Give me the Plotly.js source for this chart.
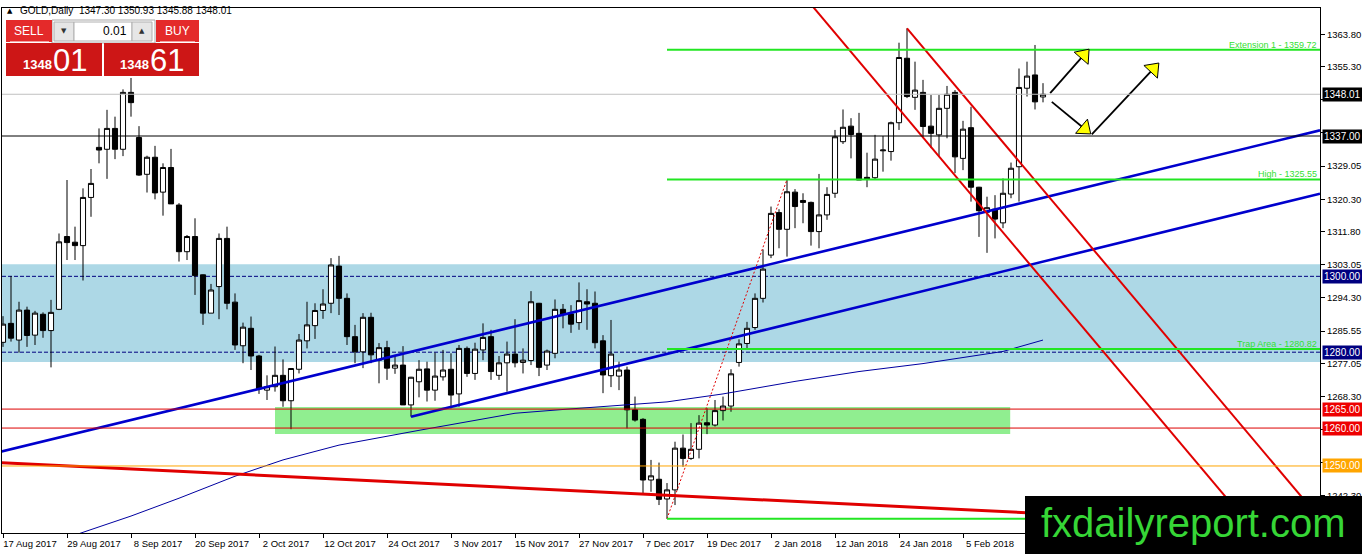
<!DOCTYPE html>
<html><head><meta charset="utf-8">
<script src="https://cdn.plot.ly/plotly-3.0.1.min.js"></script>
<style>html,body{margin:0;padding:0;background:#fff;overflow:hidden}#chart{width:1362px;height:554px}</style>
</head><body><div id="chart"></div>
<script>
// ---------------- DATA ----------------
const dates = [
'2017-08-17','2017-08-18','2017-08-21','2017-08-22','2017-08-23','2017-08-24','2017-08-25','2017-08-28','2017-08-29','2017-08-30','2017-08-31',
'2017-09-01','2017-09-04','2017-09-05','2017-09-06','2017-09-07','2017-09-08','2017-09-11','2017-09-12','2017-09-13','2017-09-14','2017-09-15','2017-09-18','2017-09-19','2017-09-20','2017-09-21','2017-09-22','2017-09-25','2017-09-26','2017-09-27','2017-09-28','2017-09-29',
'2017-10-02','2017-10-03','2017-10-04','2017-10-05','2017-10-06','2017-10-09','2017-10-10','2017-10-11','2017-10-12','2017-10-13','2017-10-16','2017-10-17','2017-10-18','2017-10-19','2017-10-20','2017-10-23','2017-10-24','2017-10-25','2017-10-26','2017-10-27','2017-10-30','2017-10-31',
'2017-11-01','2017-11-02','2017-11-03','2017-11-06','2017-11-07','2017-11-08','2017-11-09','2017-11-10','2017-11-13','2017-11-14','2017-11-15','2017-11-16','2017-11-17','2017-11-20','2017-11-21','2017-11-22','2017-11-23','2017-11-24','2017-11-27','2017-11-28','2017-11-29','2017-11-30',
'2017-12-01','2017-12-04','2017-12-05','2017-12-06','2017-12-07','2017-12-08','2017-12-11','2017-12-12','2017-12-13','2017-12-14','2017-12-15','2017-12-18','2017-12-19','2017-12-20','2017-12-21','2017-12-22','2017-12-26','2017-12-27','2017-12-28','2017-12-29',
'2018-01-02','2018-01-03','2018-01-04','2018-01-05','2018-01-08','2018-01-09','2018-01-10','2018-01-11','2018-01-12','2018-01-15','2018-01-16','2018-01-17','2018-01-18','2018-01-19','2018-01-22','2018-01-23','2018-01-24','2018-01-25','2018-01-26','2018-01-29','2018-01-30','2018-01-31',
'2018-02-01','2018-02-02','2018-02-05','2018-02-06','2018-02-07','2018-02-08','2018-02-09','2018-02-12','2018-02-13','2018-02-14','2018-02-15','2018-02-16','2018-02-19'];

const openP = [
1282.6,1287.6,1283.2,1291.1,1284.5,1290.0,1285.7,1291.3,1310.5,1309.0,1308.1,1320.8,1334.0,1333.5,1339.0,1333.5,1348.5,1336.6,1326.9,1331.4,
1322.2,1328.7,1318.8,1306.5,1310.5,1300.4,1290.3,1297.3,1310.0,1293.2,1281.7,1286.3,1279.0,1270.0,1270.9,1273.9,1267.2,1275.5,1283.0,1287.0,
1291.0,1292.9,1302.7,1294.2,1284.1,1280.1,1289.2,1277.9,1281.2,1275.8,1276.6,1266.1,1272.2,1275.6,1270.0,1273.5,1275.5,1269.0,1281.0,1274.4,
1280.6,1284.1,1273.9,1277.2,1279.5,1277.3,1277.8,1292.9,1276.6,1279.7,1291.3,1290.1,1287.8,1293.3,1292.9,1283.0,1273.8,1273.7,1275.3,1264.8,
1262.3,1246.3,1246.5,1241.3,1243.7,1254.7,1252.0,1254.4,1261.4,1260.8,1264.6,1265.8,1277.3,1282.3,1286.5,1294.2,1305.6,1316.8,1312.4,1322.2,
1320.0,1319.5,1311.8,1316.2,1321.9,1335.5,1339.6,1337.7,1326.1,1326.0,1333.1,1332.9,1340.5,1357.5,1347.2,1348.5,1339.6,1337.3,1344.3,1348.5,
1331.1,1339.2,1323.5,1316.9,1317.7,1314.1,1321.7,1328.9,1349.6,1353.1,1347.30];
const highP = [
1289.5,1300.1,1293.3,1292.0,1290.9,1290.5,1293.8,1311.3,1325.4,1313.1,1323.2,1328.3,1339.0,1343.9,1342.1,1349.3,1352.3,1339.6,1331.8,1334.4,
1329.8,1333.6,1319.3,1310.9,1315.3,1300.5,1298.0,1311.3,1313.1,1295.5,1287.8,1289.4,1279.3,1273.9,1281.5,1278.1,1275.7,1284.8,1293.3,1292.9,
1296.6,1304.8,1305.4,1295.5,1287.2,1290.3,1290.4,1282.4,1283.0,1279.3,1281.6,1273.5,1277.9,1277.5,1279.9,1280.6,1279.7,1281.9,1281.5,1282.5,
1287.6,1285.9,1279.0,1282.8,1288.7,1281.0,1296.1,1293.0,1280.7,1293.9,1292.7,1292.4,1298.4,1296.6,1296.0,1284.5,1288.5,1277.5,1276.2,1268.3,
1262.6,1251.6,1250.9,1245.5,1256.4,1258.3,1261.3,1263.4,1265.2,1267.4,1268.3,1275.5,1283.4,1288.0,1295.5,1307.1,1318.4,1317.7,1325.55,1323.0,
1321.9,1319.7,1327.0,1323.5,1338.6,1344.0,1341.7,1343.1,1332.6,1337.3,1337.0,1340.8,1361.6,1365.4,1356.6,1351.8,1347.8,1347.8,1350.2,1349.1,
1341.0,1344.7,1323.6,1321.0,1321.4,1325.8,1330.0,1354.8,1356.6,1361.0,1350.93];
const lowP = [
1281.4,1282.8,1279.9,1281.4,1281.9,1283.8,1276.0,1291.1,1304.3,1304.3,1298.9,1315.7,1329.8,1325.7,1330.9,1331.7,1342.1,1326.5,1322.1,1320.3,
1316.0,1319.1,1303.9,1304.3,1295.1,1287.2,1290.3,1288.7,1291.3,1280.6,1277.1,1275.3,1269.0,1267.4,1269.6,1265.6,1259.7,1274.4,1281.0,1283.5,
1288.8,1290.3,1289.8,1281.9,1277.1,1275.8,1277.1,1271.8,1272.7,1274.3,1266.1,1263.0,1268.1,1267.0,1267.2,1272.5,1265.2,1265.6,1273.5,1272.7,
1277.9,1272.7,1272.7,1269.6,1276.0,1274.4,1276.6,1273.7,1275.3,1278.4,1286.3,1285.1,1285.9,1285.9,1281.0,1269.2,1270.8,1270.0,1259.9,1261.7,
1242.8,1243.2,1239.7,1236.09,1239.7,1249.8,1251.6,1252.0,1258.4,1260.4,1262.0,1264.3,1276.2,1280.8,1285.9,1293.1,1304.8,1307.4,1305.2,1312.7,
1314.0,1308.1,1307.4,1314.9,1320.7,1334.9,1331.1,1325.4,1323.5,1325.4,1327.6,1330.5,1338.6,1347.0,1343.9,1336.8,1333.8,1331.5,1336.4,1327.2,
1328.0,1319.7,1310.4,1306.2,1310.0,1312.7,1320.6,1319.7,1347.4,1344.0,1345.88];
const closeP = [
1287.4,1283.7,1291.1,1284.4,1290.3,1285.7,1290.5,1309.1,1308.9,1308.1,1320.8,1324.5,1333.3,1339.0,1333.5,1348.5,1345.8,1326.7,1331.4,1322.0,
1328.7,1319.1,1306.5,1310.5,1300.2,1290.3,1296.4,1310.0,1292.9,1281.9,1286.6,1279.0,1270.3,1270.9,1273.9,1267.2,1275.7,1283.2,1287.2,1291.0,
1292.7,1303.0,1294.2,1284.1,1280.1,1289.2,1279.3,1281.2,1275.8,1276.6,1266.1,1273.4,1275.5,1270.0,1273.7,1275.3,1268.7,1281.0,1274.4,1280.8,
1283.9,1274.9,1277.2,1279.5,1277.2,1277.9,1293.3,1276.0,1280.3,1291.3,1290.0,1287.4,1293.6,1292.7,1282.5,1274.0,1279.5,1275.3,1264.8,1262.1,
1246.3,1247.4,1241.2,1243.7,1254.7,1252.0,1254.4,1261.3,1260.8,1264.6,1265.8,1274.3,1282.2,1286.3,1294.2,1301.9,1316.6,1312.4,1322.3,1318.4,
1319.5,1311.8,1316.2,1321.6,1336.8,1339.3,1337.4,1325.4,1325.7,1330.9,1333.3,1340.5,1357.7,1347.4,1349.1,1339.5,1337.7,1344.3,1348.0,1331.5,
1338.8,1323.5,1317.3,1318.1,1315.1,1321.9,1328.5,1349.8,1352.8,1346.0,1348.01];

// moving average (thin navy line), read at sample dates
const maDates = ['2017-08-30','2017-09-08','2017-09-18','2017-09-27','2017-10-05','2017-10-16','2017-10-30','2017-11-15','2017-11-23','2017-12-05','2017-12-12','2017-12-21','2018-01-05','2018-01-17','2018-01-29','2018-02-12','2018-02-19'];
const maValues = [1231.8,1236.8,1241.5,1247.3,1251.6,1255.5,1259.4,1263.9,1264.9,1266.2,1266.9,1269.0,1272.3,1274.9,1277.0,1280.2,1283.2];

// x axis labels
const axisDates = ['2017-08-17','2017-08-29','2017-09-08','2017-09-20','2017-10-02','2017-10-12','2017-10-24','2017-11-03','2017-11-15','2017-11-27','2017-12-07','2017-12-19','2018-01-02','2018-01-12','2018-01-24','2018-02-05'];
const monthNames = ['Jan','Feb','Mar','Apr','May','Jun','Jul','Aug','Sep','Oct','Nov','Dec'];
// price axis ticks (those hidden behind level boxes carry no label)
const priceTicks = [1363.80,1355.30,1346.55,1337.80,1329.05,1320.30,1311.80,1303.05,1294.30,1285.55,1277.05,1268.30,1259.55,1251.05,1242.30];
const hiddenTicks = [1346.55,1337.80,1259.55,1251.05];

// horizontal levels
const levelValues = [1348.01, 1337.00, 1300.00, 1280.00, 1265.00, 1260.00, 1250.00];
const levelKinds  = ['bid','black','navy','navy','red','red','orange'];

// zones
const blueZone = [1277.4, 1303.2];
const greenZoneBars = [34.0, 125.9];
const greenZone = [1258.4, 1265.55];

// trend lines (bar index, price)
const blueUpperX = [-0.375, 164.625], blueUpperY = [1253.7, 1338.5];
const blueLowerX = [51, 164.625],     blueLowerY = [1263.0, 1321.8];
const redLongX   = [-0.375, 164.625], redLongY   = [1250.9, 1233.9];
const redChanAX  = [100, 164.625],    redChanAY  = [1374.2, 1212.3];
const redChanBX  = [113, 164.625],    redChanBY  = [1365.4, 1236.1];

// Fibonacci object
const fibStartDate = '2017-12-12', fibLow = 1236.09;
const fibEndDate = '2018-01-04', fibHigh = 1325.55;
const fibNames  = ['Extension 1', 'High', 'Trap Area', ''];
const fibValues = [1359.72, 1325.55, 1280.82, 1236.09];

// projection arrows (bar index, price)
const arrowFromX = [130.9, 131.1, 136.1], arrowFromY = [1348.3, 1346.0, 1337.4];
const arrowToX   = [135.5, 135.6, 144.2], arrowToY  = [1359.3, 1338.2, 1355.6];
const arrowHeadX = [135.1, 135.2, 143.8], arrowHeadY = [1358.3, 1338.9, 1354.7];
const arrowAngle = [41, 130, 43];

const symbolName = 'GOLD,Daily';
const bidPrice = '1348', bidPips = '01', askPrice = '1348', askPips = '61';
const lotSize = '0.01';
const watermark = 'fxdailyreport.com';

// ---------------- DRAW ----------------
const idx = d => dates.indexOf(d);
const xs = dates.map((d,i)=>i);
const XR = 164.625;

const traces = [];
traces.push({
  type:'candlestick', x:xs, open:openP, high:highP, low:lowP, close:closeP,
  increasing:{line:{color:'#000',width:1}, fillcolor:'#fff'},
  decreasing:{line:{color:'#000',width:1}, fillcolor:'#000'},
  whiskerwidth:0, hoverinfo:'skip', showlegend:false
});
traces.push({type:'scatter', mode:'lines', x:maDates.map(idx), y:maValues, line:{color:'#0000a0',width:1}, hoverinfo:'skip'});
traces.push({type:'scatter', mode:'lines', x:blueUpperX, y:blueUpperY, line:{color:'#0000cd',width:2.6}, hoverinfo:'skip'});
traces.push({type:'scatter', mode:'lines', x:blueLowerX, y:blueLowerY, line:{color:'#0000cd',width:2.6}, hoverinfo:'skip'});
traces.push({type:'scatter', mode:'lines', x:redLongX, y:redLongY, line:{color:'#e00000',width:3}, hoverinfo:'skip'});
traces.push({type:'scatter', mode:'lines', x:redChanAX, y:redChanAY, line:{color:'#e00000',width:2}, hoverinfo:'skip'});
traces.push({type:'scatter', mode:'lines', x:redChanBX, y:redChanBY, line:{color:'#e00000',width:2}, hoverinfo:'skip'});
// fib
traces.push({type:'scatter', mode:'lines', x:[idx(fibStartDate), idx(fibEndDate)], y:[fibLow, fibHigh], line:{color:'#e00000',width:1,dash:'2px,2px'}, hoverinfo:'skip'});
fibValues.forEach(v=>{
  traces.push({type:'scatter', mode:'lines', x:[idx(fibStartDate), XR], y:[v, v], line:{color:'#22e622',width:2}, hoverinfo:'skip'});
});
// arrows
for (let k=0;k<arrowFromX.length;k++){
  traces.push({type:'scatter', mode:'lines', x:[arrowFromX[k], arrowToX[k]], y:[arrowFromY[k], arrowToY[k]], line:{color:'#000',width:1.8}, hoverinfo:'skip'});
}
traces.push({type:'scatter', mode:'markers', x:arrowHeadX, y:arrowHeadY,
  marker:{symbol:'triangle-up', size:16, color:'#ffff00', angle:arrowAngle, line:{color:'#000',width:1}}, hoverinfo:'skip'});

// pixel helpers for paper coordinates (plot area: x 2..1320, y 8..533)
const px = x => (x-2)/1318, py = y => (533-y)/525;

const shapes = [];
shapes.push({type:'rect', xref:'paper', yref:'y', x0:0, x1:1, y0:blueZone[0], y1:blueZone[1], fillcolor:'#add8e6', line:{width:0}, layer:'below'});
shapes.push({type:'rect', xref:'x', yref:'y', x0:greenZoneBars[0], x1:greenZoneBars[1], y0:greenZone[0], y1:greenZone[1], fillcolor:'#90ee90', line:{width:0}, layer:'below'});
const kindStyle = {
  bid:{color:'#c0c0c0', dash:'solid', bg:'#000'},
  black:{color:'#000', dash:'solid', bg:'#000'},
  navy:{color:'#000080', dash:'4px,2px', bg:'#000080'},
  red:{color:'#dd0000', dash:'solid', bg:'#ee0000'},
  orange:{color:'#ffa500', dash:'solid', bg:'#ffa500'}
};
levelValues.forEach((v,i)=>{
  const s = kindStyle[levelKinds[i]];
  shapes.push({type:'line', xref:'paper', yref:'y', x0:0, x1:1, y0:v, y1:v, line:{color:s.color, width:1, dash:s.dash}, layer:(levelKinds[i]==='navy'?'below':'above')});
});
// trading panel
function rectPx(x0,y0,x1,y1,fill,lineCol){
  shapes.push({type:'rect', xref:'paper', yref:'paper', x0:px(x0), x1:px(x1), y0:py(y1), y1:py(y0), fillcolor:fill, line:{width:lineCol?1:0, color:lineCol||fill}, layer:'above'});
}
rectPx(52,20,155,43,'#ffffff','#a8a8a8');
rectPx(6,20,52,42,'#e42a2a');
rectPx(10,41,49,42,'#f4a0a0');
rectPx(54,22,74,41,'#e6e6e6','#b0b0b0');
rectPx(74,22,132,41,'#ffffff','#b0b0b0');
rectPx(132,22,152,41,'#e6e6e6','#b0b0b0');
rectPx(156,20,199,42,'#e42a2a');
rectPx(160,41,195,42,'#f4a0a0');
rectPx(6,43,102,76,'#cd1616');
rectPx(104,43,199,76,'#cd1616');
// watermark box
rectPx(1025,496,1370,560,'#000000');

const annotations = [];
levelValues.forEach((v,i)=>{
  const s = kindStyle[levelKinds[i]];
  annotations.push({xref:'paper', yref:'y', x:px(1322), y:v, xanchor:'left', yanchor:'middle', text:v.toFixed(2), showarrow:false,
    bgcolor:s.bg, borderpad:1, font:{color:'#fff', size:10, family:'Liberation Sans, Arial'}});
});
fibValues.forEach((v,i)=>{
  if(!fibNames[i]) return;
  annotations.push({xref:'x', yref:'y', x:XR-0.1, y:v, xanchor:'right', yanchor:'bottom', yshift:-2, text:fibNames[i]+' - '+v.toFixed(2), showarrow:false,
    font:{color:'#33e033', size:9, family:'Liberation Sans, Arial'}});
});
function textPx(x,y,t,size,color,anchor,opts){
  annotations.push(Object.assign({xref:'paper', yref:'paper', x:px(x), y:py(y), xanchor:anchor||'center', yanchor:'middle', text:t, showarrow:false,
    font:{size:size, color:color, family:'Liberation Sans, Arial'}}, opts||{}));
}
textPx(10,11,'▲',7,'#000','center',{font:{size:7,color:'#000',family:'DejaVu Sans'}});
textPx(18,11,symbolName+'  '+[openP[130],highP[130],lowP[130],closeP[130]].map(v=>v.toFixed(2)).join(' '),10,'#000','left');
textPx(29,31,'SELL',12,'#fff');
textPx(177,31,'BUY',12,'#fff');
textPx(64,31,'▼',7,'#333','center',{font:{size:7,color:'#333',family:'DejaVu Sans'}});
textPx(142,31,'▲',7,'#333','center',{font:{size:7,color:'#333',family:'DejaVu Sans'}});
textPx(129,31,lotSize,12,'#000','right');
textPx(37,65,bidPrice,13,'#fff','center',{font:{size:13,color:'#fff',family:'Liberation Sans, Arial',weight:'bold'}});
textPx(70,60,bidPips,31,'#fff');
textPx(134,65,askPrice,13,'#fff','center',{font:{size:13,color:'#fff',family:'Liberation Sans, Arial',weight:'bold'}});
textPx(167,60,askPips,31,'#fff');
textPx(1193,523,watermark,40,'#36d636');

const layout = {
  width:1362, height:554,
  margin:{l:2, r:42, t:8, b:21, pad:0},
  paper_bgcolor:'#fff', plot_bgcolor:'#fff',
  showlegend:false, hovermode:false,
  font:{family:'Liberation Sans, Arial, sans-serif', size:10, color:'#000'},
  boxgap:0.2, boxgroupgap:0.2,
  xaxis:{type:'linear', range:[-0.125, XR], showgrid:false, zeroline:false, showline:true, mirror:true,
    linecolor:'#000', linewidth:1, ticks:'outside', ticklen:4, tickcolor:'#000',
    tickvals:axisDates.map(idx),
    ticktext:axisDates.map(d=>{const p=d.split('-'); return (+p[2])+' '+monthNames[+p[1]-1]+' '+p[0];}),
    ticklabelshift:27, ticklabelstandoff:-2, tickfont:{size:9.5}, rangeslider:{visible:false}, fixedrange:true},
  yaxis:{side:'right', range:[1232.33, 1370.75], showgrid:false, zeroline:false, showline:true, mirror:true,
    linecolor:'#000', linewidth:1, ticks:'outside', ticklen:4, tickcolor:'#000',
    tickvals:priceTicks, ticktext:priceTicks.map(v=>hiddenTicks.includes(v)?'':v.toFixed(2)), tickfont:{size:9.5}, fixedrange:true},
  shapes:shapes, annotations:annotations
};
Plotly.newPlot('chart', traces, layout, {staticPlot:true, displayModeBar:false});
</script></body></html>
